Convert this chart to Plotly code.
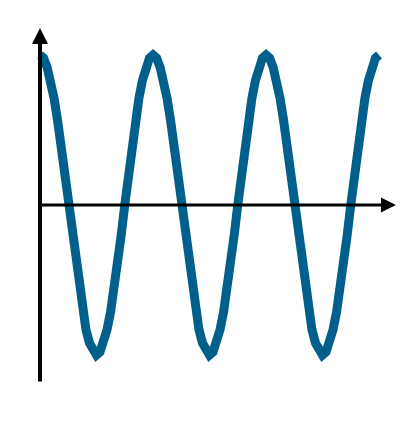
import plotly.graph_objects as go

x_vals = [i / 32 for i in range(0, 97)]
half_down = [1, 0.98, 0.92, 0.83, 0.71, 0.56, 0.38, 0.2,
             0, -0.2, -0.38, -0.56, -0.71, -0.83, -0.92, -0.98]
half_up = [-1, -0.98, -0.92, -0.83, -0.71, -0.56, -0.38, -0.2,
           0, 0.2, 0.38, 0.56, 0.71, 0.83, 0.92, 0.98]
y_vals = (half_down + half_up) * 3 + [1]

fig = go.Figure()
fig.add_trace(go.Scatter(
    x=x_vals, y=y_vals, mode="lines",
    line=dict(color="#005f8b", width=9),
    hoverinfo="skip", showlegend=False))

# axis arrows
fig.add_annotation(x=0, y=1.18, ax=0, ay=-1.187, xref="x", yref="y",
                   axref="x", ayref="y", text="", showarrow=True,
                   arrowhead=2, arrowsize=0.8, arrowwidth=4, arrowcolor="black")
fig.add_annotation(x=3.15, y=0, ax=0, ay=0, xref="x", yref="y",
                   axref="x", ayref="y", text="", showarrow=True,
                   arrowhead=2, arrowsize=1.0, arrowwidth=3, arrowcolor="black")

fig.update_layout(
    width=406, height=424,
    margin=dict(l=0, r=0, t=0, b=0),
    paper_bgcolor="white", plot_bgcolor="white",
    xaxis=dict(range=[-32 / 113, 374 / 113], visible=False, fixedrange=True),
    yaxis=dict(range=[-227 / 150, 197 / 150], visible=False, fixedrange=True),
)
fig.write_html("out.html")
